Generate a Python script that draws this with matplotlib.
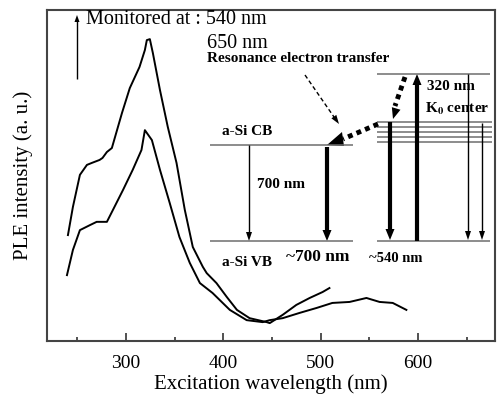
import numpy as np
import matplotlib
matplotlib.use("Agg")
import matplotlib.pyplot as plt
from matplotlib.lines import Line2D
from matplotlib.patches import Polygon

plt.rcParams['font.family'] = ['Liberation Serif', 'DejaVu Serif']
plt.rcParams['mathtext.fontset'] = 'stix'

# PLE spectrum monitored at 540 nm
wl_540 = [240.5, 245.6, 252.8, 260, 265, 273, 276, 280.5, 285.6, 296, 304, 314, 319.5,
          321.5, 324.6, 327.7, 335, 343, 352, 360.5, 368.7, 379, 383, 393, 403.6, 414,
          427, 444.6, 447.7, 461, 475, 488.7, 502, 509]
int_540 = [32.0, 40.5, 50.2, 53.2, 53.8, 54.7, 55.3, 57.1, 58.3, 68.9, 76.4, 82.8, 87.9,
           90.9, 91.2, 87.0, 75.8, 64.7, 53.8, 39.6, 28.4, 22.4, 20.5, 17.5, 13.3, 9.4,
           6.9, 5.7, 5.4, 7.9, 10.9, 13.0, 14.8, 16.0]

# PLE spectrum monitored at 650 nm
wl_650 = [239.5, 245.6, 252.8, 263, 270, 280.5, 286.7, 297, 307, 316, 319.5, 326.7, 335,
          345, 355, 365.6, 376, 389, 406.7, 424, 440.5, 447.7, 461, 478.5, 496, 512,
          529.7, 547, 560.5, 574, 588]
int_650 = [19.9, 27.5, 33.5, 35.0, 36.0, 36.0, 39.6, 45.6, 51.7, 57.7, 63.7, 60.7, 51.7,
           41.7, 31.4, 23.6, 17.5, 14.5, 9.4, 6.3, 5.7, 6.3, 6.9, 8.5, 10.0, 11.5,
           11.8, 13.0, 11.8, 11.5, 9.4]

major_ticks = [300, 400, 500, 600]
minor_ticks = [250, 350, 450, 550, 650]

W, H = 498, 396
fig = plt.figure(figsize=(W / 100, H / 100), dpi=100)
ax = fig.add_axes([47 / W, 1 - 341 / H, 448 / W, 331 / H])

ax.plot(wl_540, int_540, color='black', lw=1.4)
ax.plot(wl_650, int_650, color='black', lw=1.4)

ax.set_xlim(219, 679)
ax.set_ylim(0, 100)
ax.set_xticks(major_ticks)
ax.set_xticks(minor_ticks, minor=True)
ax.set_yticks([])
ax.tick_params(axis='x', which='major', direction='in', length=6, width=1.2,
               labelsize=14, pad=10, color='#333333')
ax.tick_params(axis='x', which='minor', direction='in', length=3, width=1.2, color='#333333')
for s in ax.spines.values():
    s.set_color('#444444')
    s.set_linewidth(1.5)
ax.set_xlabel('Excitation wavelength (nm)', fontsize=15, labelpad=2)
ax.set_ylabel('PLE intensity (a. u.)', fontsize=15, labelpad=10)


def F(px, py):
    return (px / W, 1 - py / H)


def line(p0, p1, lw=1.0, color='black', ls='-'):
    a, b = F(*p0), F(*p1)
    fig.add_artist(Line2D([a[0], b[0]], [a[1], b[1]], lw=lw, color=color, ls=ls,
                          transform=fig.transFigure, solid_capstyle='butt',
                          dash_capstyle='butt'))


def head(tip, direction, hl, hw):
    d = np.array(direction, float)
    d /= np.linalg.norm(d)
    n = np.array([-d[1], d[0]])
    t = np.array(tip, float)
    base = t - d * hl
    pts = [t, base + n * hw / 2, base - n * hw / 2]
    fig.add_artist(Polygon([F(*p) for p in pts], closed=True, color='black',
                           transform=fig.transFigure, lw=0))


def arrow(p0, p1, lw=1.0, hl=8, hw=5, ls='-'):
    d = np.array(p1, float) - np.array(p0, float)
    L = np.linalg.norm(d)
    base = np.array(p0) + d * (L - hl * 0.8) / L
    line(p0, base, lw=lw, ls=ls)
    head(p1, d, hl, hw)


def text(px, py, s, size=11, weight='bold', ha='left', va='center'):
    x, y = F(px, py)
    fig.text(x, y, s, fontsize=size, fontweight=weight, ha=ha, va=va)


# Monitored arrow + labels
arrow((77, 79), (77, 15), lw=1.0, hl=7, hw=5)
text(86, 20, 'Monitored at : 540 nm', size=14.5, weight='normal')
text(207, 44, '650 nm', size=14.5, weight='normal')
text(207, 59, 'Resonance electron transfer', size=11)

# Levels
gray = '#6e6e6e'
line((210, 145), (353, 145), lw=1.1, color=gray)
line((210, 241), (353, 241), lw=1.1, color=gray)
line((377, 241), (490, 241), lw=1.1, color=gray)
line((377, 74), (490, 74), lw=1.1, color=gray)
for yy in [122, 127, 132, 137, 142]:
    line((377, yy), (492, yy), lw=1.1, color=gray)

# Left diagram arrows
arrow((249, 145), (249, 241), lw=1.0, hl=9, hw=6)
arrow((327, 147), (327, 241), lw=3.0, hl=11, hw=9)
text(257, 184, '700 nm', size=11)
text(222, 131, 'a-Si CB', size=11)
text(222, 262, 'a-Si VB', size=11)
text(286, 257, '~700 nm', size=12.5)
text(369, 259, '~540 nm', size=10.5)

# Right diagram arrows
arrow((417, 241), (417, 74), lw=3.0, hl=11, hw=9)
text(427, 86, '320 nm', size=11)
text(425, 109, r'K$_\mathbf{0}$ center', size=11)
arrow((390, 122), (390, 240), lw=3.0, hl=11, hw=9)
arrow((468, 74), (468, 240), lw=1.0, hl=9, hw=6)
arrow((482, 123), (482, 240), lw=1.0, hl=9, hw=6)

# Resonance transfer dotted paths
line((405, 77), (395, 106), lw=3.5, ls=(0, (1, 0.9)))
head((393, 119), (-0.3, 1), 11, 9)
line((378, 124), (343, 139), lw=3.5, ls=(0, (1, 0.9)))
fig.add_artist(Polygon([F(327, 145), F(342, 132), F(344, 146)], closed=True,
                       color='black', transform=fig.transFigure, lw=0))
# thin dashed arrow
line((305, 75), (334, 117), lw=1.0, ls=(0, (3, 2)))
head((339, 124), (34, 49), 9, 6)

fig.savefig('out.png', dpi=100)
